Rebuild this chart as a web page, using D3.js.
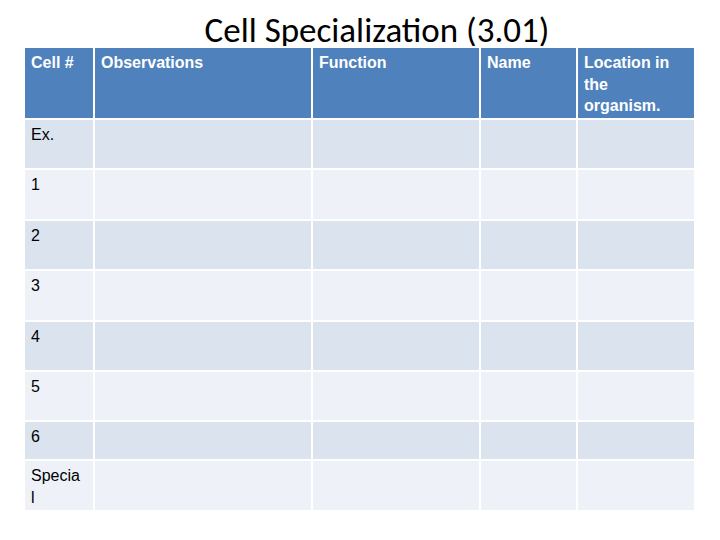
<!DOCTYPE html>
<html><head><meta charset="utf-8">
<script src="https://cdn.jsdelivr.net/npm/d3@7"></script>
<style>body{margin:0;background:#fff;}</style>
</head><body>
<div id="chart"></div>
<script>
// Table content
const headers = [["Cell #"], ["Observations"], ["Function"], ["Name"], ["Location in", "the", "organism."]];
const rowLabels = [["Ex."], ["1"], ["2"], ["3"], ["4"], ["5"], ["6"], ["Specia", "l"]];
const colEdges = [24, 94, 312, 480, 577, 695];
const rowEdges = [47, 119, 169, 220, 270, 321, 371, 421, 460, 511];

const svg = d3.select("#chart").append("svg")
    .attr("width", 720).attr("height", 540);

svg.append("text")
    .attr("x", 377).attr("y", 42)
    .attr("text-anchor", "middle")
    .style("font-family", "Carlito, 'Open Sans', sans-serif")
    .style("font-size", "35px")
    .text("Cell Specialization (3.01)");

const fontF = "'Liberation Sans', Arial, sans-serif";

// header row
headers.forEach(function(h, i) {
    svg.append("rect")
       .attr("x", colEdges[i]).attr("y", rowEdges[0])
       .attr("width", colEdges[i + 1] - colEdges[i]).attr("height", rowEdges[1] - rowEdges[0])
       .attr("fill", "#4f81bd").attr("stroke", "#fff").attr("stroke-width", 2);
    h.forEach(function(line, k) {
        svg.append("text")
           .attr("x", colEdges[i] + 7).attr("y", rowEdges[0] + 21 + k * 21.5)
           .attr("fill", "#fff").style("font-family", fontF)
           .style("font-weight", "bold").style("font-size", "16px")
           .text(line);
    });
});

// body rows
rowLabels.forEach(function(r, j) {
    const y0 = rowEdges[j + 1], y1 = rowEdges[j + 2];
    const fill = j % 2 === 0 ? "#dbe3ef" : "#eef2f8";
    for (let i = 0; i < colEdges.length - 1; i++) {
        svg.append("rect")
           .attr("x", colEdges[i]).attr("y", y0)
           .attr("width", colEdges[i + 1] - colEdges[i]).attr("height", y1 - y0)
           .attr("fill", fill).attr("stroke", "#fff").attr("stroke-width", 2);
    }
    r.forEach(function(line, k) {
        svg.append("text")
           .attr("x", colEdges[0] + 7).attr("y", y0 + 21 + k * 21.5)
           .attr("fill", "#000").style("font-family", fontF)
           .style("font-size", "16px")
           .text(line);
    });
});
</script>
</body></html>
